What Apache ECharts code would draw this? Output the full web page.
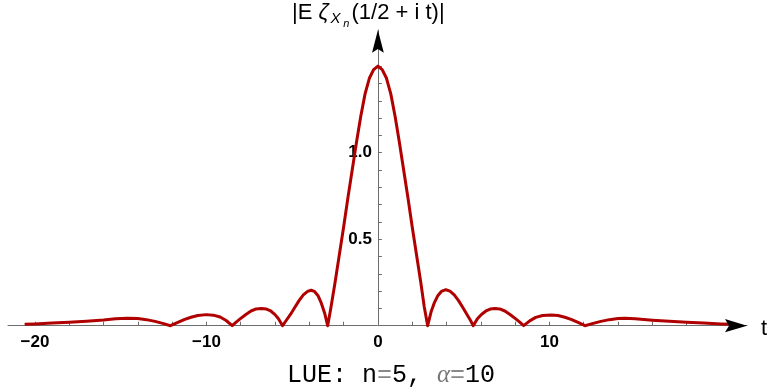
<!DOCTYPE html>
<html>
<head>
<meta charset="utf-8">
<script src="https://cdn.jsdelivr.net/npm/echarts@6/dist/echarts.min.js"></script>
<style>
html,body{margin:0;padding:0;background:#fff;}
#chart{width:769px;height:392px;}
</style>
</head>
<body>
<div id="chart"></div>
<script>
// t values (x) and |E zeta(1/2 + i t)| values (y)
const tValues = [
  -20.6, -20.0, -19.0, -18.0, -17.0, -16.0, -15.3, -14.6, -14.0, -13.5, -13.0, -12.5, -12.1,
  -11.7, -11.3, -10.9, -10.5, -10.0, -9.6, -9.2, -8.85, -8.5,
  -8.25, -8.0, -7.7, -7.4, -7.1, -6.8, -6.5, -6.25, -6.0, -5.8, -5.56,
  -5.35, -5.1, -4.85, -4.6, -4.35, -4.1, -3.9, -3.7, -3.5, -3.3, -3.1, -2.93,
  -2.75, -2.5, -2.25, -2.0, -1.75, -1.5, -1.25, -1.0, -0.75, -0.5, -0.25, 0,
  0.25, 0.5, 0.75, 1.0, 1.25, 1.5, 1.75, 2.0, 2.25, 2.5, 2.7, 2.9,
  3.1, 3.3, 3.5, 3.7, 3.96, 4.2, 4.45, 4.7, 4.95, 5.2, 5.4, 5.56,
  5.8, 6.05, 6.3, 6.55, 6.82, 7.1, 7.4, 7.7, 8.0, 8.25, 8.5,
  8.85, 9.2, 9.6, 10.1, 10.5, 10.9, 11.3, 11.7, 12.07,
  12.5, 13.0, 13.5, 14.0, 14.4, 15.0, 16.0, 17.0, 18.0, 19.0, 20.0, 20.6
];
const yValues = [
  0.008, 0.010, 0.015, 0.020, 0.026, 0.033, 0.040, 0.043, 0.041, 0.035, 0.025, 0.012, 0,
  0.018, 0.035, 0.049, 0.059, 0.064, 0.061, 0.050, 0.030, 0,
  0.022, 0.042, 0.065, 0.085, 0.097, 0.100, 0.096, 0.085, 0.064, 0.040, 0,
  0.030, 0.065, 0.105, 0.145, 0.178, 0.198, 0.205, 0.198, 0.175, 0.130, 0.070, 0,
  0.10, 0.25, 0.41, 0.57, 0.74, 0.90, 1.06, 1.21, 1.34, 1.43, 1.48, 1.50,
  1.48, 1.43, 1.34, 1.21, 1.06, 0.90, 0.74, 0.57, 0.41, 0.25, 0.11, 0,
  0.080, 0.135, 0.175, 0.198, 0.208, 0.200, 0.178, 0.145, 0.105, 0.063, 0.030, 0,
  0.040, 0.066, 0.085, 0.096, 0.100, 0.097, 0.085, 0.065, 0.042, 0.022, 0,
  0.028, 0.048, 0.059, 0.062, 0.059, 0.049, 0.035, 0.018, 0,
  0.012, 0.025, 0.035, 0.041, 0.043, 0.040, 0.032, 0.026, 0.020, 0.015, 0.010, 0.008
];
const xTickValues = [-20, -18, -16, -14, -12, -10, -8, -6, -4, -2, 2, 4, 6, 8, 10, 12, 14, 16, 18];
const xLabelValues = [-20, -10, 0, 10];
const yTickValues = [0.1, 0.2, 0.3, 0.4, 0.5, 0.6, 0.7, 0.8, 0.9, 1.0, 1.1, 1.2, 1.3, 1.4, 1.5];
const yLabelValues = [0.5, 1.0];
const xRange = [-21.57, 21.52];
const yRange = [0, 1.709];

const seriesData = tValues.map((t, i) => [t, yValues[i]]);

const gridLeft = 8, gridWidth = 739;
// shift the y axis so that it sits on t = 0
const yAxisOffset = -((0 - xRange[0]) / (xRange[1] - xRange[0]) * gridWidth);

const chart = echarts.init(document.getElementById('chart'), null, {renderer: 'canvas'});
const axisGray = '#6e6e6e';
const labelFont = {fontFamily: 'Liberation Sans, Arial, sans-serif', fontWeight: 'bold', fontSize: 17, color: '#000'};
const sans = 'Liberation Sans, Arial, sans-serif';

chart.setOption({
  animation: false,
  backgroundColor: '#fff',
  grid: {left: gridLeft, top: 30, width: gridWidth, height: 295.7, containLabel: false, outerBoundsMode: 'none'},
  xAxis: {
    type: 'value', min: xRange[0], max: xRange[1],
    splitLine: {show: false},
    axisLine: {show: true, onZero: true, lineStyle: {color: axisGray, width: 1}},
    axisTick: {show: true, inside: true, length: 4, customValues: xTickValues, lineStyle: {color: axisGray, width: 1}},
    axisLabel: Object.assign({customValues: xLabelValues, margin: 8,
      formatter: v => String(v).replace('-', '\u2212')}, labelFont)
  },
  yAxis: {
    type: 'value', min: yRange[0], max: yRange[1],
    offset: yAxisOffset,
    splitLine: {show: false},
    axisLine: {show: true, onZero: false, lineStyle: {color: axisGray, width: 1}},
    axisTick: {show: true, inside: true, length: 4, customValues: yTickValues, lineStyle: {color: axisGray, width: 1}},
    axisLabel: Object.assign({customValues: yLabelValues, margin: 6,
      formatter: v => Number(v).toFixed(1)}, labelFont)
  },
  series: [{
    type: 'line', data: seriesData, showSymbol: false, symbol: 'none', smooth: false,
    lineStyle: {color: '#b00000', width: 3, join: 'round'},
    clip: false, z: 3
  }]
});

// arrowheads at the axis ends and text labels
const xTip = chart.convertToPixel({gridIndex: 0}, [xRange[1], 0]);
const yTip = chart.convertToPixel({gridIndex: 0}, [0, yRange[1]]);
chart.setOption({
  graphic: [
    {type: 'polygon', z: 100, shape: {points: [[xTip[0], xTip[1]], [xTip[0] - 22, xTip[1] - 6.6], [xTip[0] - 18, xTip[1]], [xTip[0] - 22, xTip[1] + 6.6]]}, style: {fill: '#000'}},
    {type: 'polygon', z: 100, shape: {points: [[yTip[0], yTip[1]], [yTip[0] - 5.9, yTip[1] + 22.7], [yTip[0], yTip[1] + 19], [yTip[0] + 5.9, yTip[1] + 22.7]]}, style: {fill: '#000'}},
    {type: 'text', z: 100, x: 761, y: 318, style: {text: 't', font: '22px ' + sans, fill: '#000', textAlign: 'left', textVerticalAlign: 'top'}},
    {type: 'text', z: 100, x: 292, y: 2.1, style: {text: '|E', font: '22px ' + sans, fill: '#000', textAlign: 'left', textVerticalAlign: 'top'}},
    {type: 'text', z: 100, x: 318.5, y: 2.1, style: {text: 'ζ', font: 'italic 22px ' + sans, fill: '#000', textAlign: 'left', textVerticalAlign: 'top'}},
    {type: 'text', z: 100, x: 330.5, y: 11.3, style: {text: 'X', font: 'italic 15px ' + sans, fill: '#000', textAlign: 'left', textVerticalAlign: 'top'}},
    {type: 'text', z: 100, x: 343.2, y: 18, style: {text: 'n', font: 'italic 11px ' + sans, fill: '#000', textAlign: 'left', textVerticalAlign: 'top'}},
    {type: 'text', z: 100, x: 351.5, y: 2.1, style: {text: '(1/2 + i t)|', font: '22px ' + sans, fill: '#000', textAlign: 'left', textVerticalAlign: 'top'}},
    {type: 'text', z: 100, x: 391, y: 375, style: {
      text: '{m|LUE: n}{g|=}{m|5, }{a|α}{g|=}{m|10}',
      textAlign: 'center', textVerticalAlign: 'middle',
      rich: {
        m: {fontFamily: 'Liberation Mono, DejaVu Sans Mono, monospace', fontSize: 25, fill: '#000', color: '#000'},
        g: {fontFamily: 'Liberation Mono, DejaVu Sans Mono, monospace', fontSize: 25, fill: '#888', color: '#888'},
        a: {fontFamily: 'Liberation Serif, serif', fontStyle: 'italic', fontSize: 25, fill: '#777', color: '#777'}
      }
    }}
  ]
});
</script>
</body>
</html>
